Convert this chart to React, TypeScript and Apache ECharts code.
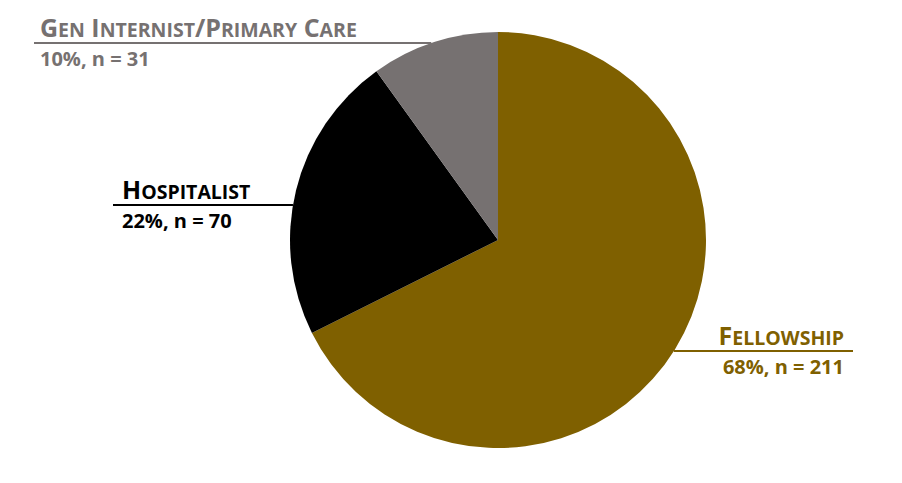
import React, { useEffect, useRef } from "react";
import * as echarts from "echarts";

const categories = ["Fellowship", "Hospitalist", "Gen Internist/Primary Care"];
const counts = [211, 70, 31];

const sliceColors = ["#7F6000", "#000000", "#767171"];
const labelColors = ["#7F6000", "#000000", "#767171"];

const CX = 498;
const CY = 240;
const R = 208;

const labelPlaces = [
  { lineY: 351, textX: 844, align: "right", lineEnd: 853 },
  { lineY: 205, textX: 122, align: "left", lineEnd: 113 },
  { lineY: 43, textX: 40, align: "left", lineEnd: 34 },
];

const FONT = "Open Sans";

function smallCaps(name: string): string {
  let out = "";
  let cur = "";
  let curType = "";
  const flush = () => {
    if (cur) out += `{${curType}|${cur}}`;
    cur = "";
  };
  for (const ch of name) {
    const t = ch >= "a" && ch <= "z" ? "s" : "c";
    if (t !== curType) {
      flush();
      curType = t;
    }
    cur += ch.toUpperCase();
  }
  flush();
  return out;
}

export default function App() {
  const ref = useRef<HTMLDivElement>(null);
  useEffect(() => {
    if (!ref.current) return;
    const chart = echarts.init(ref.current, null, { renderer: "svg" });
    const data = categories.map((name, i) => ({
      name,
      value: counts[i],
      itemStyle: { color: sliceColors[i] },
      label: { color: labelColors[i] },
      labelLine: { lineStyle: { color: labelColors[i], width: 2 } },
    }));
    chart.setOption({
      animation: false,
      backgroundColor: "#ffffff",
      series: [
        {
          type: "pie",
          center: [CX, CY],
          radius: R,
          startAngle: 90,
          clockwise: true,
          avoidLabelOverlap: false,
          data,
          label: {
            show: true,
            position: "outside",
            fontFamily: FONT,
            fontWeight: "bold",
            formatter: (p: any) =>
              smallCaps(p.name) +
              `\n{p|${Math.round(p.percent)}%, n = ${p.value}}`,
            rich: {
              c: { fontFamily: FONT, fontWeight: "bold", fontSize: 25, verticalAlign: "bottom" },
              s: { fontFamily: FONT, fontWeight: "bold", fontSize: 19.5, verticalAlign: "bottom" },
              p: { fontFamily: FONT, fontWeight: "bold", fontSize: 20, lineHeight: 38 },
            },
          },
          labelLine: { show: true, length: 10, length2: 10 },
          labelLayout: (params: any) => {
            const pl = labelPlaces[params.dataIndex];
            const dy = pl.lineY - CY;
            const dx = Math.sqrt(Math.max(R * R - dy * dy, 0));
            const edgeX = pl.align === "right" ? CX + dx : CX - dx;
            return {
              x: pl.textX,
              y: pl.lineY - 29,
              align: pl.align,
              verticalAlign: "top",
              labelLinePoints: [
                [edgeX, pl.lineY],
                [(edgeX + pl.lineEnd) / 2, pl.lineY],
                [pl.lineEnd, pl.lineY],
              ],
            };
          },
        },
      ],
    });
    return () => chart.dispose();
  }, []);
  return (
    <div
      ref={ref}
      style={{ position: "fixed", left: 0, top: 0, width: 902, height: 483 }}
    />
  );
}
